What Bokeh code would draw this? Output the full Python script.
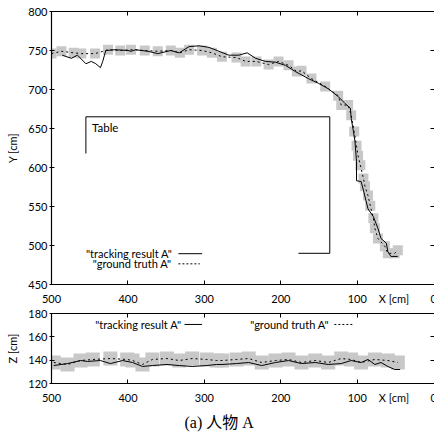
from bokeh.plotting import figure
from bokeh.models import Range1d, LinearAxis, FixedTicker, Label, Title, CustomLabelingPolicy
from bokeh.layouts import column
from bokeh.embed import file_html
from bokeh.resources import INLINE

# ---------------- data ----------------
# top panel: X-Y trajectory
gt_x = [500, 487, 471, 461, 443, 426, 410, 396, 378, 361, 344, 332, 320, 303, 290, 277,
        258, 246, 232, 216, 203, 190, 179, 173, 160, 142, 125, 121, 112, 108, 104, 101,
        99, 96, 92, 90, 86, 83, 79, 77, 73, 64, 60, 51, 47]
gt_y = [746, 749, 747, 746, 746, 751, 750, 751, 750, 749, 750, 747, 751, 750, 747, 742,
        741, 736, 736, 732, 736, 731, 723, 724, 714, 704, 692, 680, 680, 667, 646, 628,
        615, 603, 586, 576, 564, 551, 535, 522, 509, 499, 490, 490, 494]
tr_x = [486, 474, 466, 455, 448, 442, 436, 433, 429, 417, 400, 396, 390, 374, 361, 344,
        333, 320, 307, 294, 281, 268, 255, 244, 233, 220, 207, 194, 181, 164, 151, 138,
        125, 116, 109, 108, 105, 103, 101, 101, 95, 92, 86, 79, 73, 69, 62, 60, 56, 47]
tr_y = [744, 740, 744, 733, 736, 733, 728, 736, 750, 751, 750, 749, 751, 749, 746, 750,
        747, 755, 756, 754, 749, 744, 744, 747, 740, 736, 735, 731, 723, 714, 708, 701,
        691, 682, 676, 663, 646, 633, 608, 583, 582, 571, 547, 537, 522, 509, 503, 492, 486, 486]

# bottom panel: X-Z
gtz_x = [497, 479, 462, 446, 423, 401, 394, 381, 368, 349, 333, 316, 297, 284, 277, 258,
         242, 225, 207, 190, 173, 155, 138, 121, 108, 95, 77, 60, 47]
gtz_z = [138.0, 136.3, 139.7, 140.6, 141.4, 140.6, 139.7, 136.3, 140.6, 141.4, 139.7, 141.4,
         140.6, 139.7, 139.7, 140.6, 141.4, 138.0, 139.7, 140.6, 138.0, 139.7, 138.0, 141.4,
         140.6, 138.0, 140.6, 139.7, 138.0]
trz_x = [497, 479, 462, 453, 436, 423, 407, 394, 381, 368, 349, 333, 316, 297, 284, 277,
         258, 242, 225, 207, 190, 173, 155, 138, 121, 108, 95, 86, 77, 69, 60, 51, 44]
trz_z = [135.4, 137.1, 139.7, 138.9, 139.7, 137.1, 139.7, 138.0, 134.6, 135.4, 136.3, 135.4,
         134.6, 135.4, 136.3, 136.3, 137.1, 138.0, 135.4, 138.0, 139.7, 137.1, 138.0, 136.3,
         137.1, 139.7, 138.0, 140.6, 136.3, 138.0, 134.6, 132.0, 132.0]

# table outline drawn in the top panel
table_x = [455, 455, 136, 136, 177]
table_y = [618, 665, 665, 490, 490]

x_ticks = [500, 400, 300, 200, 100]
x_label_ticks = [500, 400, 300, 200, 100, 0]
x_label_pos = 52          # where the "X [cm]" text sits on the x axis line
y_ticks = [450, 500, 550, 600, 650, 700, 750, 800]
z_ticks = [120, 140, 160, 180]

FONT = "Lato"
GRAY = "#c8c8c8"
HIDE_ALL = CustomLabelingPolicy(code="for (const i of Array.from(indices)) indices.unset(i)")


def tick_only_axis(ticks, line_color):
    return LinearAxis(ticker=FixedTicker(ticks=ticks), major_label_text_font_size="0px",
                      major_label_policy=HIDE_ALL,
                      major_tick_in=4, major_tick_out=0, minor_tick_line_color=None,
                      axis_line_color=line_color, axis_line_width=1.2, major_label_standoff=0)


def base_style(p, yticks, ylabel):
    p.grid.visible = False
    p.outline_line_color = None
    # bottom axis: labels on "major" ticks (incl. the axis title), marks on "minor" ticks
    xa = p.xaxis[0]
    xa.ticker = FixedTicker(ticks=x_label_ticks + [x_label_pos], minor_ticks=x_ticks)
    xa.major_label_overrides = {x_label_pos: "X [cm]"}
    xa.major_tick_line_color = None
    xa.minor_tick_in = 4
    xa.minor_tick_out = 0
    xa.minor_tick_line_color = "black"
    xa.axis_line_color = "black"
    xa.axis_line_width = 1.2
    xa.major_label_text_font = FONT
    xa.major_label_text_font_size = "11px"
    xa.major_label_text_color = "black"
    xa.major_label_standoff = 1
    xa.major_label_text_line_height = 0.8
    # left axis
    ya = p.yaxis[0]
    ya.ticker = FixedTicker(ticks=yticks)
    ya.major_tick_in = 3
    ya.major_tick_out = 2
    ya.minor_tick_line_color = None
    ya.axis_line_color = "black"
    ya.axis_line_width = 1.2
    ya.major_label_text_font = FONT
    ya.major_label_text_font_size = "11px"
    ya.major_label_text_color = "black"
    ya.major_label_standoff = 2
    ya.axis_label = ylabel
    ya.axis_label_text_font = FONT
    ya.axis_label_text_font_size = "11px"
    ya.axis_label_text_font_style = "normal"
    ya.axis_label_text_color = "black"
    ya.axis_label_standoff = 6
    # top border with inward ticks, right side inward ticks only
    p.add_layout(tick_only_axis(x_ticks, "black"), "above")
    p.add_layout(tick_only_axis(yticks, None), "right")


def legend_entry(p, tx, ty, lx0, lx1, text, dash):
    p.add_layout(Label(x=tx, y=ty, text=text, text_align="right", text_baseline="middle",
                       text_font=FONT, text_font_size="11px", text_color="black"))
    p.segment(x0=[lx0], y0=[ty], x1=[lx1], y1=[ty], line_color="black", line_width=1,
              line_dash=dash)


# ---------------- top panel ----------------
p1 = figure(frame_width=383, frame_height=273, x_range=Range1d(500, -1),
            y_range=Range1d(450, 800), output_backend="svg", toolbar_location=None,
            min_border_left=51, min_border_right=0, min_border_top=11, min_border_bottom=0)
base_style(p1, y_ticks, "Y [cm]")

p1.scatter(gt_x, gt_y, marker="square", size=10, fill_color=GRAY, line_color=None)
p1.line(gt_x, gt_y, line_color="black", line_width=1, line_dash="2 3")
p1.line(tr_x, tr_y, line_color="black", line_width=1)
p1.line(table_x, table_y, line_color="black", line_width=1)
p1.add_layout(Label(x=447, y=651, text="Table", text_baseline="middle", text_font=FONT,
                    text_font_size="11.5px", text_color="black"))
legend_entry(p1, 342, 489.5, 334, 303, '"tracking result A"', "solid")
legend_entry(p1, 343, 476.5, 334, 306, '"ground truth A"', "2 2")

# ---------------- bottom panel ----------------
p2 = figure(frame_width=383, frame_height=70, x_range=Range1d(500, -1),
            y_range=Range1d(120, 180), output_backend="svg", toolbar_location=None,
            min_border_left=51, min_border_right=0, min_border_top=6, min_border_bottom=0)
base_style(p2, z_ticks, "Z [cm]")

p2.scatter(gtz_x, gtz_z, marker="square", size=14, fill_color=GRAY, line_color=None)
p2.line(gtz_x, gtz_z, line_color="black", line_width=1, line_dash="2 3")
p2.line(trz_x, trz_z, line_color="black", line_width=1)
legend_entry(p2, 330, 170.6, 326, 303, '"tracking result A"', "solid")
legend_entry(p2, 137, 170.6, 130, 105, '"ground truth A"', "2 2")

caption = Title(text="(a) 人物 A", align="left", offset=133, standoff=11,
                text_font="Liberation Serif, Noto Sans CJK JP", text_font_size="16px",
                text_font_style="normal", text_color="black")
p2.add_layout(caption, "below")

layout = column(p1, p2)
open("out.html", "w").write(file_html(layout, INLINE))
